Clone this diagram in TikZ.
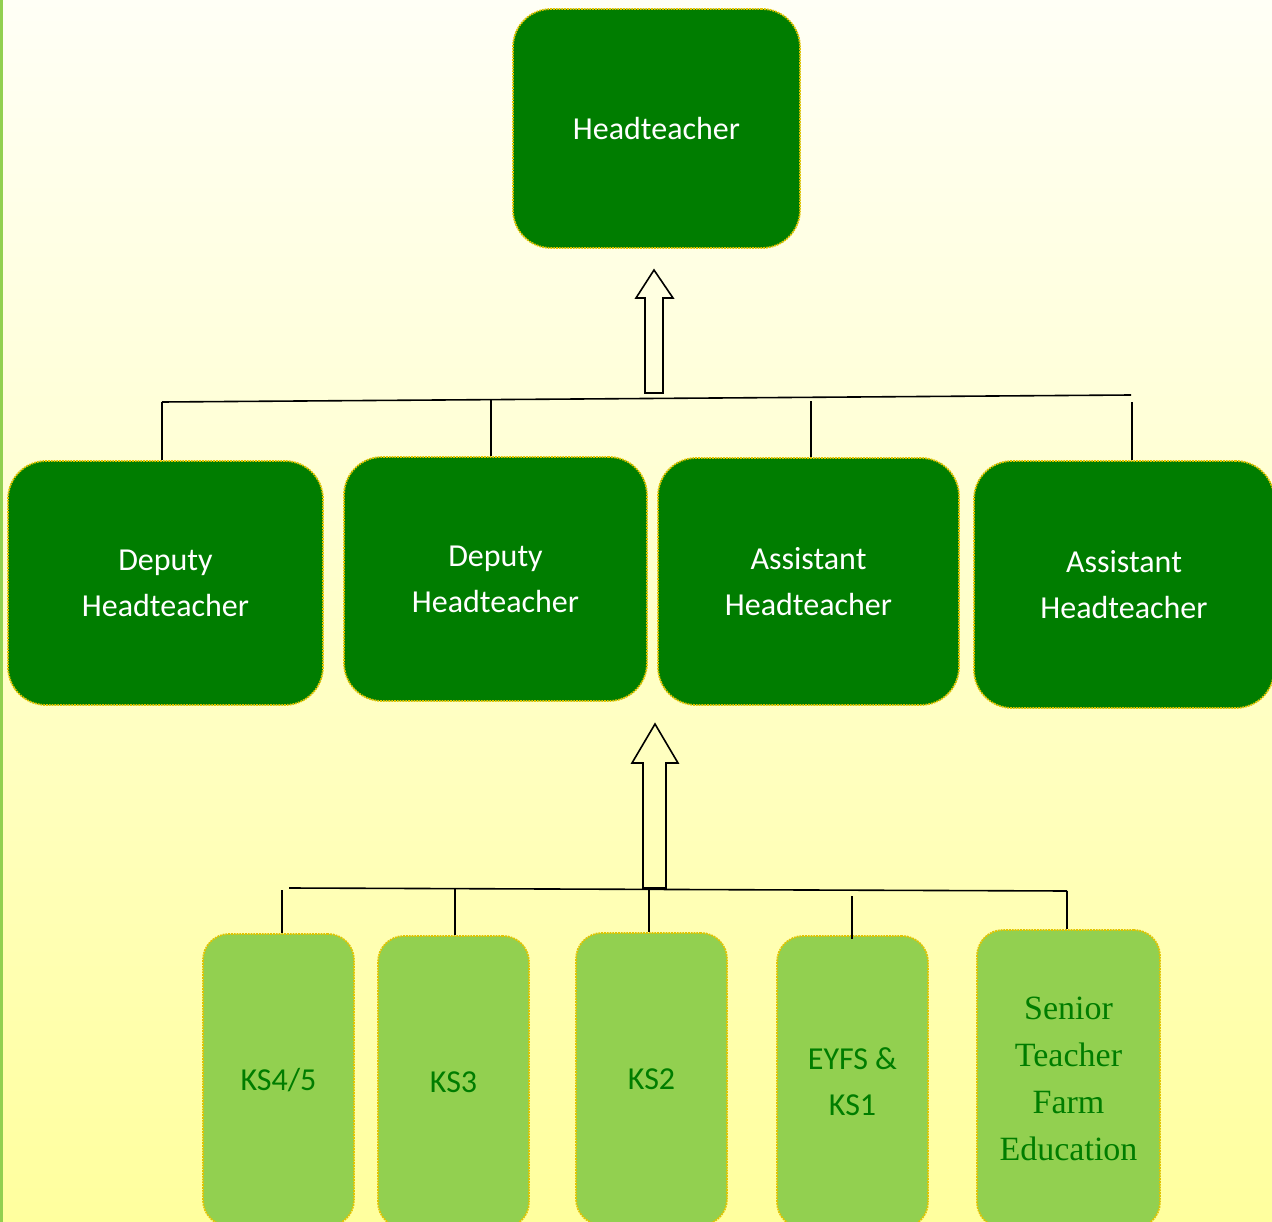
\documentclass[tikz,border=0pt]{standalone}
\usepackage{fontspec}
\setmainfont{Carlito}
\newfontfamily\serifx{Liberation Serif}
\definecolor{dkgreen}{RGB}{0,125,0}
\definecolor{ltgreen}{RGB}{146,208,80}
\definecolor{bordery}{RGB}{225,195,0}
\definecolor{bgtop}{RGB}{255,255,246}
\definecolor{bgbot}{RGB}{255,255,158}
\tikzset{
  bigbox/.style={draw=bordery, densely dotted, line width=1.8pt, fill=dkgreen,
    rounded corners=38pt, text=white, font=\fontsize{32}{46}\selectfont,
    align=center, inner sep=0pt},
  smallbox/.style={draw=bordery, densely dotted, line width=1.8pt, fill=ltgreen,
    rounded corners=26pt, text=dkgreen, font=\fontsize{32}{46}\selectfont,
    align=center, inner sep=0pt, minimum width=151pt, minimum height=292pt},
  link/.style={line width=1.6pt, draw=black},
  blockarrow/.style={draw=black, line width=1.6pt, line join=miter}
}
\begin{document}
\begin{tikzpicture}[x=1pt,y=-1pt]
\useasboundingbox (0,0) rectangle (1272,1222);
\clip (0,0) rectangle (1272,1222);
\shade[top color=bgtop, bottom color=bgbot] (0,0) rectangle (1272,1222);
\fill[ltgreen] (0,0) rectangle (3,1222);

% top
\node[bigbox, minimum width=287pt, minimum height=239pt] (head) at (656.5,128.5) {Headteacher};

% middle row
\node[bigbox, minimum width=315pt, minimum height=244pt] (d1) at (165.5,583) {Deputy\\Headteacher};
\node[bigbox, minimum width=303pt, minimum height=244pt] (d2) at (495.5,579) {Deputy\\Headteacher};
\node[bigbox, minimum width=301pt, minimum height=247pt] (a1) at (808.5,581.5) {Assistant\\Headteacher};
\node[bigbox, minimum width=300pt, minimum height=247pt] (a2) at (1124,584.5) {Assistant\\Headteacher};

% bottom row
\node[smallbox] (ks45) at (278.5,1080) {KS4/5};
\node[smallbox] (ks3) at (453.5,1082) {KS3};
\node[smallbox] (ks2) at (651.5,1079) {KS2};
\node[smallbox] (eyfs) at (852.5,1082) {EYFS \&\\KS1};
\node[smallbox, minimum width=183pt, minimum height=298pt, font=\serifx\fontsize{34}{47}\selectfont] (senior) at (1068.5,1079) {Senior\\Teacher\\Farm\\Education};

% upper bar
\coordinate (tl) at (162,402);
\coordinate (tr) at (1131,395);
\draw[link] (tl) -- (tr);
\draw[link] ([xshift=-3.5pt]d1.north) -- ([xshift=-3.5pt]d1.north |- tl);
\draw[link] ([xshift=-4.5pt]d2.north) -- ([xshift=-4.5pt,yshift=57pt]d2.north);
\draw[link] ([xshift=2.5pt]a1.north) -- ([xshift=2.5pt,yshift=56pt]a1.north);
\draw[link] ([xshift=8pt]a2.north) -- ([xshift=8pt,yshift=58pt]a2.north);

% arrow to headteacher
\coordinate (ar1) at (654,393);
\draw[blockarrow] ([xshift=-9pt]ar1) -- ++(0,-95) -- ++(-9,0) -- (654,270) -- (673,298) -- ++(-10,0) -- ([xshift=9pt]ar1) -- cycle;

% lower bar
\coordinate (bl) at (289,888);
\coordinate (br) at (1067,891);
\draw[link] (bl) -- (br);
\draw[link] ([xshift=3.5pt]ks45.north) -- ([xshift=3.5pt,yshift=43pt]ks45.north);
\draw[link] ([xshift=1.5pt]ks3.north) -- ([xshift=1.5pt,yshift=46pt]ks3.north);
\draw[link] ([xshift=-2.5pt]ks2.north) -- ([xshift=-2.5pt,yshift=43pt]ks2.north);
\draw[link] ([xshift=-0.5pt,yshift=-4pt]eyfs.north) -- ([xshift=-0.5pt,yshift=39pt]eyfs.north);
\draw[link] ([xshift=-1.5pt]senior.north) -- ([xshift=-1.5pt]senior.north |- br);

% arrow to middle row
\coordinate (ar2) at (654.5,888);
\draw[blockarrow] ([xshift=-11.5pt]ar2) -- ++(0,-125) -- ++(-11,0) -- (655,724) -- (678,763) -- ++(-12,0) -- ([xshift=11.5pt]ar2) -- cycle;
\end{tikzpicture}
\end{document}
